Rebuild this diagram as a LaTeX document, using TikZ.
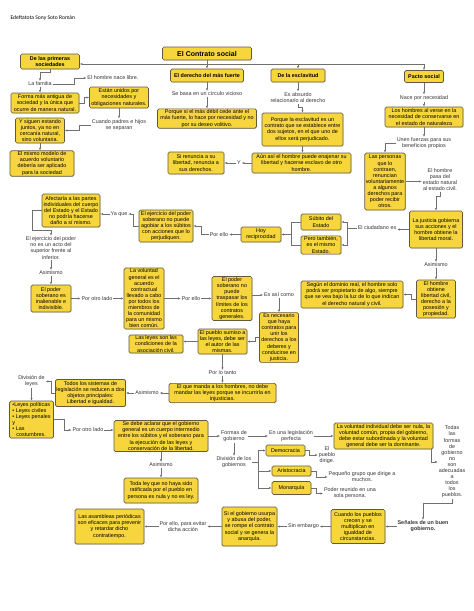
\documentclass[tikz,border=0pt]{standalone}
\usepackage{fontspec}
\setmainfont{Liberation Sans}
\newfontfamily\authfont{Carlito}
\usepackage{xcolor}
\usetikzlibrary{arrows.meta,shadows}
\definecolor{boxfill}{HTML}{F7D63D}
\definecolor{boxline}{HTML}{625A3C}
\definecolor{conn}{HTML}{707070}
\newcommand{\cardnode}[6][]{\node[card,minimum width=#4pt,minimum height=#5pt,#1] (#2) at (#3) {#6};}
\begin{document}
\begin{tikzpicture}[x=1pt,y=-1pt,
  >={Latex[length=2.6pt,width=2.2pt]},
  card/.style={draw=boxline,fill=boxfill,line width=0.7pt,rounded corners=1.5pt,inner sep=1pt,align=center,font=\fontsize{5.4}{6.1}\selectfont,drop shadow={opacity=0.2,shadow xshift=0.7pt,shadow yshift=-0.7pt}},
  hd/.style={font=\bfseries\fontsize{5.4}{6.1}\selectfont},
  txt/.style={inner sep=0.8pt,align=center,font=\fontsize{5.4}{6.1}\selectfont,text=black!80},
  ar/.style={->,draw=conn,line width=0.55pt},
  ln/.style={draw=conn,line width=0.55pt}]
\fill[white] (0,0) rectangle (474,611);
\useasboundingbox (0,0) rectangle (474,611);

\node[anchor=west,font=\authfont\fontsize{5.6}{6.5}\selectfont] (Aut) at (7,18) {Edeftatota Sony Soto Román};
\cardnode[font=\bfseries\fontsize{7}{8}\selectfont]{Tit}{207,53.5}{89}{13}{El Contrato social}
\coordinate (J) at (207,64);

\cardnode[hd]{Prim}{50,61.5}{59}{15}{De las primeras\\sociedades}
\cardnode[hd]{Der}{207,75.5}{73}{13}{El derecho del más fuerte}
\cardnode[hd]{Esc}{298,75.5}{54}{13}{De la esclavitud}
\cardnode[hd]{Pac}{424,76.5}{39}{12}{Pacto social}

\node[txt] (Fam) at (40,84) {La familia};
\node[txt] (Nace) at (113,78) {El hombre nace libre.};
\cardnode{Forma}{45,103}{68}{20}{Forma más antigua de\\sociedad y la única que\\ocurre de manera natural.}
\cardnode{Unidos}{119,97.5}{59}{21}{Están unidos por\\necesidades y\\obligaciones naturales.}
\node[txt] (Sepa) at (119,125) {Cuando padres e hijos\\se separan};
\cardnode{Juntos}{40,130.5}{49}{25}{Y siguen estando\\juntos, ya no en\\cercanía natural,\\sino voluntaria.}
\cardnode{Modelo}{42,163.5}{64}{25}{El mismo modelo de\\acuerdo voluntario\\debería ser aplicado\\para la sociedad}

\node[txt] (Basa) at (207,94) {Se basa en un círculo vicioso};
\cardnode{Debil}{207,118.5}{99}{17}{Porque si el más débil cede ante el\\más fuerte, lo hace por necesidad y no\\por su deseo volitivo.}
\cardnode{Ren}{196,163}{56}{22}{Si renuncia a su\\libertad, renuncia a\\sus derechos.}
\node[txt] (Y) at (239,163) {Y};
\cardnode{Aun}{301.5,163}{99}{20}{Aún así el hombre puede enajenar su\\libertad y hacerse esclavo de otro\\hombre.}

\node[txt] (Abs) at (298,97.5) {Es absurdo\\relacionarlo al derecho};
\cardnode{Perj}{302.5,129.5}{81}{33}{Porque la esclavitud es un\\contrato que se establece entre\\dos sujetos, en el que uno de\\ellos será perjudicado.}

\node[txt] (Nec) at (424,98) {Nace por necesidad};
\cardnode{Cons}{424,117}{78}{20}{Los hombres al verse en la\\necesidad de conservarse en\\el estado de naturaleza}
\node[txt] (Unen) at (424,143.5) {Unen fuerzas para sus\\beneficios propios};
\cardnode{Pers}{385,181.5}{40}{57}{Las personas\\que lo\\contraen,\\renuncian\\voluntariamente\\a algunos\\derechos para\\poder recibir\\otros.}
\node[txt] (Civ) at (440,179.5) {El hombre\\pasa del\\estado natural\\al estado civil.};
\cardnode{Just}{436,229.5}{53}{37}{La justicia gobierna\\sus acciones y el\\hombre obtiene la\\libertad moral.}
\node[txt] (Ciu) at (377,228) {El ciudadano es};
\cardnode{Sub}{321,222}{40}{16}{Súbito del\\Estado}
\cardnode{Mis}{321,245}{40}{18}{Pero también,\\es el mismo\\Estado.}
\coordinate (B2) at (291,234.5);
\cardnode{Hoy}{261,234.5}{40}{15}{Hoy\\reciprocidad}
\node[txt] (PorE1) at (219,234.5) {Por ello};
\cardnode{Ejer}{166,226}{54}{32}{El ejercicio del poder\\soberano no puede\\agobiar a los súbitos\\con acciones que lo\\perjudiquen.}
\node[txt] (YaQ) at (119,214) {Ya que};
\cardnode{Afec}{71,210.5}{58}{33}{Afectaría a las partes\\individuales del cuerpo\\del Estado y el Estado\\no podría hacerse\\daño a sí mismo.}
\node[txt] (EjNo) at (51,248) {El ejercicio del poder\\no es un acto del\\superior frente al\\inferior.};
\node[txt] (Asi1) at (51,273) {Asimismo};
\cardnode{Pod}{51,298.5}{40}{27}{El poder\\soberano es\\inalienable e\\indivisible.}
\node[txt] (Otro1) at (97,298.5) {Por otro lado};
\cardnode{Vol}{144,298.5}{40}{61}{La voluntad\\general es el\\acuerdo\\contractual\\llevado a cabo\\por todos los\\miembros de\\la comunidad\\para un mismo\\bien común.}
\node[txt] (PorE2) at (191,298.5) {Por ello};
\cardnode{Lim}{232,298.5}{40}{44}{El poder\\soberano no\\puede\\traspasar los\\límites de los\\contratos\\generales.}
\node[txt] (EsAsi) at (279,295) {Es así como};
\cardnode{Seg}{352,294.5}{102}{27}{Según el dominio real, el hombre solo\\podrá ser propietario de algo, siempre\\que se vea bajo la luz de lo que indican\\el derecho natural y civil.}
\node[txt] (Asi2) at (436,265) {Asimismo};
\cardnode{Obt}{436,299}{39}{38}{El hombre\\obtiene\\libertad civil,\\derecho a la\\posesión y\\propiedad.}
\cardnode{Neces}{279,337.5}{39}{49}{Es necesario\\que haya\\contratos para\\unir los\\derechos a los\\deberes y\\conducirse en\\justicia.}
\cardnode{Pue}{222.5,341.5}{49}{25}{El pueblo sumiso a\\las leyes, debe ser\\el autor de las\\mismas.}
\cardnode{Leyes}{156,344}{54}{18}{Las leyes son las\\condiciones de la\\asociación civil.}
\node[txt] (PLT) at (222.5,373) {Por lo tanto};
\cardnode{Manda}{222.5,393}{107}{18}{El que manda a los hombres, no debe\\mandar las leyes porque se incurriría en\\injusticias.}
\node[txt] (Asi3) at (147,393) {Asimismo};
\cardnode{Sist}{90.5,393}{69}{27}{Todos los sistemas de\\legislación se reducen a dos\\objetos principales:\\Libertad e igualdad.}
\node[txt] (DivL) at (31.5,381.5) {División de\\leyes};
\cardnode[align=left]{Lista}{31.5,419.5}{44}{37}{•Leyes políticas\\• Leyes civiles\\• Leyes penales\\y\\• Las\\\hspace*{4pt}costumbres.}
\node[txt] (Otro2) at (88,430) {Por otro lado};
\cardnode{Acl}{161,436}{94}{31}{Se debe aclarar que el gobierno\\general es un cuerpo intermedio\\entre los súbitos y el soberano para\\la ejecución de las leyes y\\conservación de la libertad.}
\node[txt] (Form) at (234,436) {Formas de\\gobierno};
\node[txt] (Perf) at (291,436) {En una legislación\\perfecta};
\cardnode{VolInd}{383.5,436}{99}{26}{La voluntad individual debe ser nula, la\\voluntad común, propia del gobierno,\\debe estar subordinada y la voluntad\\general debe ser la dominante.}
\node[txt] (DivG) at (234,462.5) {División de los\\gobiernos};
\coordinate (B3) at (258,462.5);
\cardnode{Dem}{285.5,450.5}{39}{11}{Democracia}
\cardnode{Ari}{291.5,471}{39}{10}{Aristocracia}
\cardnode{Mon}{291.5,488}{39}{13}{Monarquía}
\node[txt] (Dir) at (327,455) {El\\pueblo\\dirige.};
\node[txt] (Peq) at (362,477) {Pequeño grupo que dirige a\\muchos.};
\node[txt] (Uno) at (350,493.5) {Poder reunido en una\\sola persona.};
\node[txt] (Todas) at (452,462) {Todas\\las\\formas\\de\\gobierno\\no\\son\\adecuadas\\a\\todos\\los\\pueblos.};
\node[txt,font=\bfseries\fontsize{5.4}{6.1}\selectfont] (Sen) at (423,526.5) {Señales de un buen\\gobierno.};
\cardnode{Crec}{358,526.5}{54}{34}{Cuando los pueblos\\crecen y se\\multiplican en\\igualdad de\\circunstancias.}
\node[txt] (Emb) at (303.5,526.5) {Sin embargo};
\cardnode{Usur}{249.5,526.5}{55}{39}{Si el gobierno usurpa\\y abusa del poder,\\se rompe el contrato\\social y se genera la\\anarquía.}
\node[txt] (Evit) at (183,526.5) {Por ello, para evitar\\dicha acción};
\cardnode{Asam}{109.5,526.5}{69}{35}{Las asambleas periódicas\\son eficaces para prevenir\\y retardar dicho\\contratiempo.}
\node[txt] (Asi4) at (161,465) {Asimismo};
\cardnode{Toda}{161,490.5}{74}{25}{Toda ley que no haya sido\\ratificada por el pueblo en\\persona es nula y no es ley.}

\draw[ln] (Tit) -- (J);
\draw[ar] (J) -- (J -| Prim.east);
\draw[ar] (J) -- (Der);
\draw[ar] (J) -| (Esc.north);
\draw[ar] (J) -| (Pac.north);

\draw[ar] (Prim.south) -- ++(0,3) -| (Fam.north);
\draw[ar] (Fam.east) -- ++(22,0) |- (Nace.west);
\draw[ar] (Fam.south) -- (Fam.south |- Forma.north);
\draw[ar] (Forma.east) -- ++(5,0) |- (Unidos.west);
\draw[ar] (Unidos) -- (Sepa);
\draw[ar] (Sepa.west) -- ++(-12,0) |- (Juntos.east);
\draw[ar] (Juntos.south) -- (Juntos.south |- Modelo.north);

\draw[ar] (Der) -- (Basa);
\draw[ar] (Basa) -- (Debil);
\draw[ar] (Aun) -- (Y);
\draw[ar] (Y) -- (Ren);

\draw[ar] (Esc) -- (Abs);
\draw[ar] (Abs.south) -- ++(0,4) -| (Perj.north);
\draw[ar] (Perj.south) -- (Perj.south |- Aun.north);

\draw[ar] (Pac) -- (Nec);
\draw[ar] (Nec) -- (Cons);
\draw[ar] (Cons) -- (Unen);
\draw[ar] (Unen.west) -| (Pers.north);
\draw[ar] (Pers.east) -- (Pers.east -| Civ.west);
\draw[ar] (Civ.south) -- ++(0,5) -| (Just.north);
\draw[ar] (Just.west) -- (Just.west -| Ciu.east);
\draw[ln] (Ciu.west) -- ++(-10,0) coordinate (B1);
\draw[ar] (B1) |- (Sub.east);
\draw[ar] (B1) |- (Mis.east);
\draw[ln] (Sub.west) -| (B2);
\draw[ln] (Mis.west) -| (B2);
\draw[ar] (B2) -- (Hoy.east);
\draw[ar] (Hoy) -- (PorE1);
\draw[ar] (PorE1.west) -- ++(-8,0) |- (Ejer.east);
\draw[ar] (Ejer.west) -- ++(-5,0) |- (YaQ.east);
\draw[ar] (YaQ.west) -- (YaQ.west -| Afec.east);
\draw[ar] (Afec.west) -- ++(-9,0) -- ++(0,20) -| (EjNo.north);
\draw[ar] (EjNo) -- (Asi1);
\draw[ar] (Asi1) -- (Pod);
\draw[ar] (Pod) -- (Otro1);
\draw[ar] (Otro1) -- (Vol);
\draw[ar] (Vol) -- (PorE2);
\draw[ar] (PorE2) -- (Lim);
\draw[ar] (Lim.east |- EsAsi.west) -- (EsAsi.west);
\draw[ar] (EsAsi) -- (Neces);
\draw[ar] (Just) -- (Asi2);
\draw[ar] (Asi2) -- (Obt);
\draw[ar] (Obt.west) -- ++(-5,0) |- (Seg.east);
\draw[ar] (Neces.west) -- ++(-4,0) |- (Pue.east);
\draw[ar] (Pue.west) -- (Pue.west -| Leyes.east);
\draw[ar] (Pue) -- (PLT);
\draw[ar] (PLT) -- (Manda);
\draw[ar] (Manda) -- (Asi3);
\draw[ar] (Asi3) -- (Sist);
\draw[ar] (Sist.west) -- ++(-4,0) |- (DivL.east);
\draw[ar] (DivL) -- (Lista);
\draw[ar] (Lista.east) -- ++(10,0) |- (Otro2.west);
\draw[ar] (Otro2.east) -- (Otro2.east -| Acl.west);
\draw[ar] (Acl) -- (Form);
\draw[ar] (Form) -- (Perf);
\draw[ar] (Perf) -- (VolInd);
\draw[ar] ([xshift=-2pt]VolInd.south east) |- (Todas.west);
\draw[ar] (Form) -- (DivG);
\draw[ln] (DivG.east) -- (B3);
\draw[ar] (B3) |- (Dem.west);
\draw[ar] (B3) |- (Ari.west);
\draw[ar] (B3) |- (Mon.west);
\draw[ar] (Dem.east) -- ++(4,0) |- (Dir.west);
\draw[ar] (Ari.east) -- ++(5,0) |- (Peq.west);
\draw[ar] (Mon.east) -- ++(5,0) |- (Uno.west);
\draw[ar] (Todas.south) -- ++(0,4) -| (Sen.north);
\draw[ar] (Sen) -- (Crec);
\draw[ar] (Crec) -- (Emb);
\draw[ar] (Emb) -- (Usur);
\draw[ar] (Usur) -- (Evit);
\draw[ar] (Evit) -- (Asam);
\draw[ar] (Acl) -- (Asi4);
\draw[ar] (Asi4) -- (Toda);
\end{tikzpicture}
\end{document}
